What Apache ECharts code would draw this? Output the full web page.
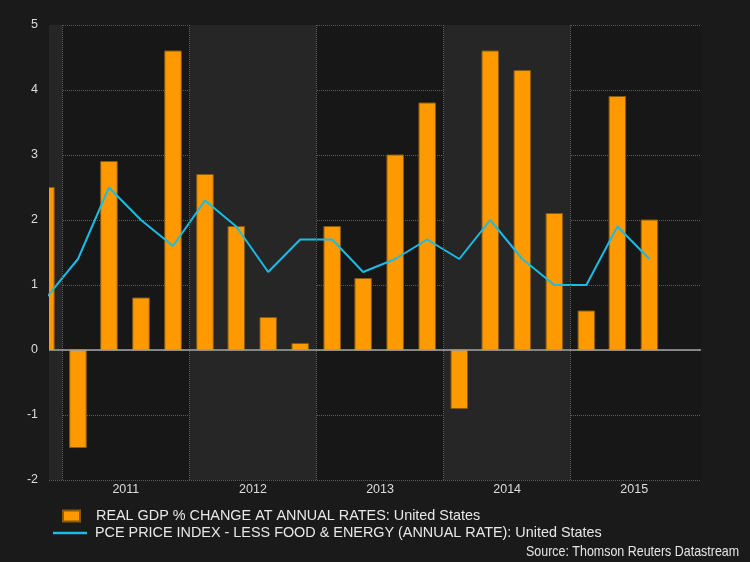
<!DOCTYPE html>
<html><head><meta charset="utf-8">
<script src="https://cdn.jsdelivr.net/npm/echarts@6/dist/echarts.min.js"></script>
<style>html,body{margin:0;padding:0;background:#1a1a1a}#c{width:750px;height:562px}</style>
</head><body><div id="c"></div>
<script>
// ---- data ----
const quarters = ['2010 Q4','2011 Q1','2011 Q2','2011 Q3','2011 Q4','2012 Q1','2012 Q2','2012 Q3','2012 Q4',
  '2013 Q1','2013 Q2','2013 Q3','2013 Q4','2014 Q1','2014 Q2','2014 Q3','2014 Q4','2015 Q1','2015 Q2','2015 Q3'];
const gdp = [2.5,-1.5,2.9,0.8,4.6,2.7,1.9,0.5,0.1,1.9,1.1,3.0,3.8,-0.9,4.6,4.3,2.1,0.6,3.9,2.0];
const pce = [0.8,1.4,2.5,2.0,1.6,2.3,1.9,1.2,1.7,1.7,1.2,1.4,1.7,1.4,2.0,1.4,1.0,1.0,1.9,1.4];
const yearLabels = [2011,2012,2013,2014,2015];
const shadedYears = [2010,2012,2014];
const gdpName = 'REAL GDP % CHANGE AT ANNUAL RATES: United States';
const pceName = 'PCE PRICE INDEX - LESS FOOD & ENERGY (ANNUAL RATE): United States';
const sourceText = 'Source: Thomson Reuters Datastream';
const X_MIN = 2010.8954, X_MAX = 2016.0252;

// quarter label -> decimal year (mid-quarter: 15th of middle month)
function qx(label){
  const parts = label.split(' Q');
  const y = +parts[0], q = +parts[1];
  const t = Date.UTC(y, q*3-2, 15), t0 = Date.UTC(y,0,1), t1 = Date.UTC(y+1,0,1);
  return y + (t-t0)/(t1-t0);
}
const gdpData = quarters.map((q,i)=>[qx(q), gdp[i]]);
const pceData = quarters.map((q,i)=>[qx(q), pce[i]]);

const BAR_W = 16.5;
const BAR_FILL = '#ff9900', BAR_EDGE = '#8a5a0c', LINE_C = '#19bce6';
const chart = echarts.init(document.getElementById('c'), null, {renderer:'canvas'});
const FONT = "'Liberation Sans', Arial, sans-serif";
chart.setOption({
  backgroundColor:'#1a1a1a',
  animation:false,
  textStyle:{fontFamily:FONT},
  grid:{left:49, right:49, top:25, bottom:82, show:true, backgroundColor:'#171717', borderWidth:0},
  graphic:[{type:'text', x:526, y:552, scaleX:0.83, silent:true,
    style:{text:sourceText, fill:'#e6e6e6', font:"15px 'Liberation Sans', Arial, sans-serif", verticalAlign:'middle'}}],
  legend:[
    {data:[gdpName], left:62, top:509, padding:0, itemWidth:17, itemHeight:11, icon:'rect',
      textStyle:{color:'#e8e8e8', fontSize:14.4, fontFamily:FONT, padding:[0,0,0,11]}},
    {data:[pceName], left:53, top:526, padding:0, itemWidth:34, itemHeight:2.5, icon:'rect',
      textStyle:{color:'#e8e8e8', fontSize:14.4, fontFamily:FONT, padding:[0,0,0,3]}}
  ],
  xAxis:{type:'value', min:X_MIN, max:X_MAX,
    axisLine:{show:false, onZero:false}, axisTick:{show:false}, splitLine:{show:false},
    axisLabel:{color:'#dcdcdc', fontSize:12.5, margin:3, fontFamily:FONT,
      customValues: yearLabels.map(y=>y+0.5),
      formatter: v => String(Math.floor(v))}},
  yAxis:{type:'value', min:-2, max:5, interval:1, z:1,
    axisLine:{show:false}, axisTick:{show:false},
    axisLabel:{color:'#dcdcdc', fontSize:12.5, margin:11, fontFamily:FONT},
    splitLine:{show:true, lineStyle:{color:'#5c5c5c', type:[1,1], width:1}}},
  series:[
    {type:'line', data:[], z:0, silent:true,
      markArea:{silent:true, itemStyle:{color:'#262626'},
        data: shadedYears.map(y=>[{xAxis:Math.max(y, X_MIN)},{xAxis:Math.min(y+1, X_MAX)}])}},
    {type:'line', data:[], z:1, silent:true,
      markLine:{silent:true, symbol:['none','none'], label:{show:false},
        lineStyle:{color:'#5c5c5c', type:[1,1], width:1},
        data: yearLabels.map(y=>({xAxis:y}))}},
    {type:'custom', name:gdpName, data:gdpData, z:2, clip:true,
      encode:{x:0, y:1},
      itemStyle:{color:BAR_FILL, borderColor:BAR_EDGE, borderWidth:1},
      renderItem:(params, api)=>{
        const x = api.value(0), v = api.value(1);
        const base = api.coord([x, 0]), top = api.coord([x, v]);
        return {type:'rect',
          shape:{x: base[0]-BAR_W/2, y: Math.min(base[1], top[1]), width: BAR_W, height: Math.abs(top[1]-base[1])},
          style:{fill:BAR_FILL, stroke:BAR_EDGE, lineWidth:1}};
      }},
    {type:'line', name:pceName, data:pceData, symbol:'none', z:3,
      lineStyle:{color:LINE_C, width:2}, itemStyle:{color:LINE_C}},
    {type:'line', data:[], z:4, silent:true,
      markLine:{silent:true, symbol:['none','none'], label:{show:false},
        lineStyle:{color:'#a6a6a6', type:'solid', width:1.5},
        data:[{yAxis:0}]}}
  ]
});
</script></body></html>
